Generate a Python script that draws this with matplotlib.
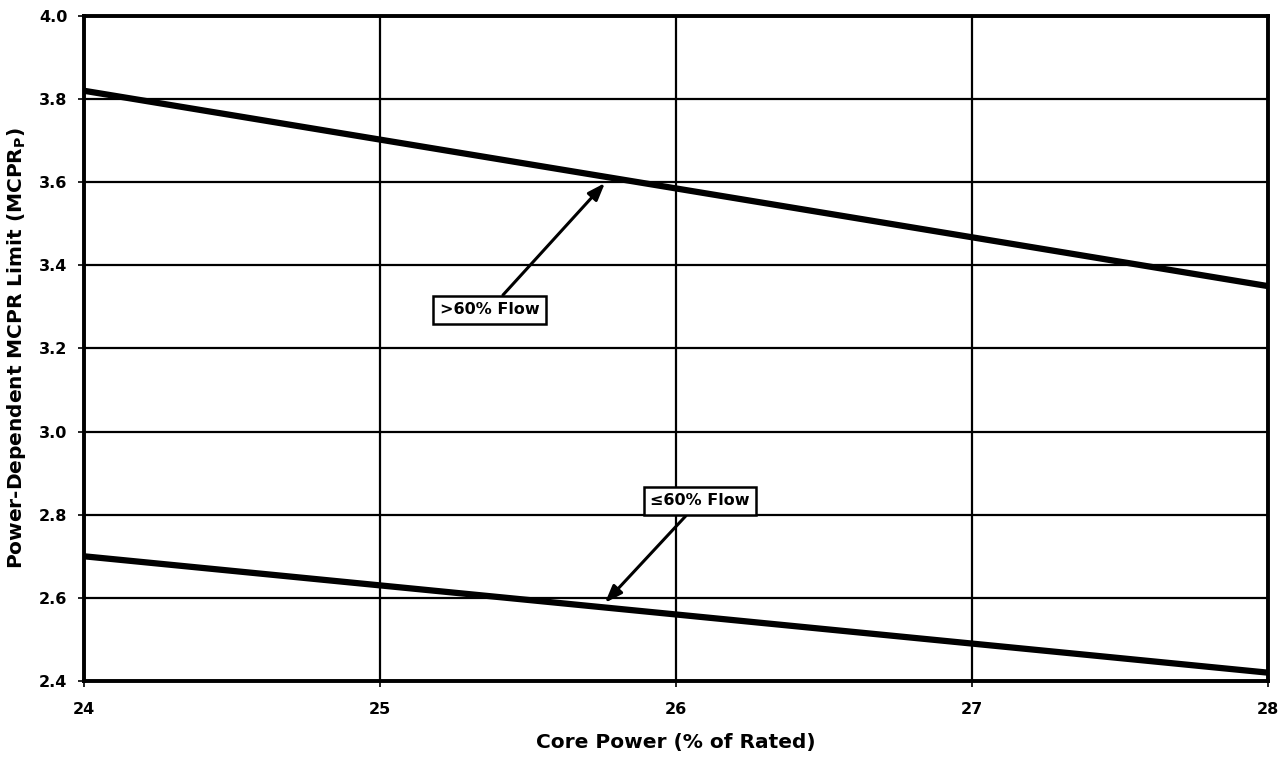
import matplotlib
matplotlib.use("Agg")
import matplotlib.pyplot as plt

plt.rcParams['font.family'] = ['DejaVu Sans']
plt.rcParams['font.weight'] = 'bold'

# Core power (% of rated) at the ends of each limit line
core_power = [24, 28]
mcpr_high_flow = [3.82, 3.35]   # > 60% flow
mcpr_low_flow = [2.70, 2.42]    # <= 60% flow

x_ticks = [24, 25, 26, 27, 28]
y_ticks = [2.4, 2.6, 2.8, 3.0, 3.2, 3.4, 3.6, 3.8, 4.0]

fig = plt.figure(figsize=(12.86, 7.59), dpi=100)
ax = fig.add_axes([0.0653, 0.1028, 0.9207, 0.8762])

ax.plot(core_power, mcpr_high_flow, color='black', lw=4.5, solid_capstyle='butt', zorder=3)
ax.plot(core_power, mcpr_low_flow, color='black', lw=4.5, solid_capstyle='butt', zorder=3)

ax.set_xlim(24, 28)
ax.set_ylim(2.4, 4.0)
ax.set_xticks(x_ticks)
ax.set_yticks(y_ticks)
ax.set_xticklabels([str(v) for v in x_ticks])
ax.set_yticklabels([f"{v:.1f}" for v in y_ticks])
ax.tick_params(axis='both', direction='out', length=4, width=1.2, labelsize=11.5)
ax.tick_params(axis='x', pad=11)
ax.tick_params(axis='y', pad=8)

ax.grid(True, color='black', lw=1.6)
ax.set_axisbelow(True)
for s in ax.spines.values():
    s.set_linewidth(2.8)

ax.set_xlabel('Core Power (% of Rated)', fontsize=14.5, fontweight='bold', labelpad=12)
ax.set_ylabel(r'Power-Dependent MCPR Limit (MCPR$_\mathregular{P}$)', fontsize=14.5,
              fontweight='bold', labelpad=8)

box = dict(boxstyle='square,pad=0.4', fc='white', ec='black', lw=1.8)
arrow = dict(arrowstyle='-|>,head_length=0.9,head_width=0.33', color='black', lw=2.2,
             shrinkA=0, shrinkB=0)
ax.annotate('>60% Flow', xy=(25.76, 3.598), xytext=(25.37, 3.293),
            fontsize=11.5, fontweight='bold', ha='center', va='center',
            bbox=box, arrowprops=arrow, zorder=5)
ax.annotate('\u226460% Flow', xy=(25.76, 2.588), xytext=(26.08, 2.833),
            fontsize=11.5, fontweight='bold', ha='center', va='center',
            bbox=box, arrowprops=arrow, zorder=5)

fig.savefig('out.png', dpi=100, facecolor='white')
